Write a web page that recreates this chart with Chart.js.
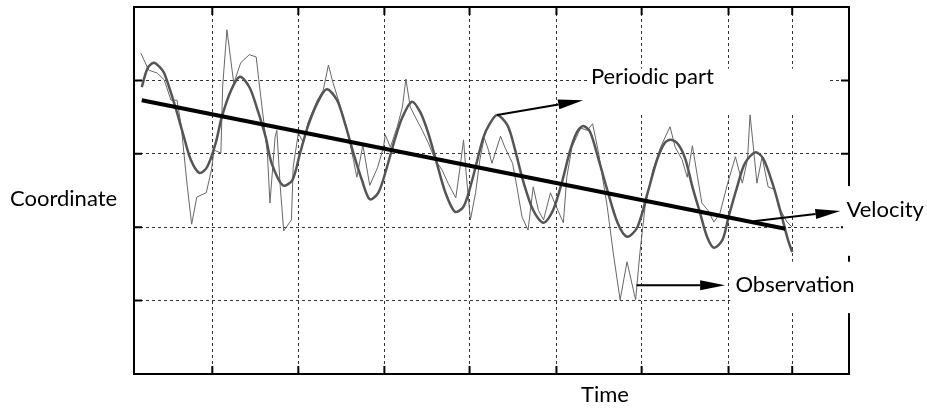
<!DOCTYPE html>
<html lang="en">
<head>
  <meta charset="UTF-8" />
  <title>Coordinate over Time</title>
  <script src="https://cdn.jsdelivr.net/npm/chart.js"></script>
  <style>
    * {
      margin: 0;
      padding: 0;
      box-sizing: border-box;
    }
    body {
      background: #fff;
      width: 927px;
      height: 412px;
      overflow: hidden;
    }
    .chart-box {
      position: relative;
      width: 927px;
      height: 412px;
    }
  </style>
</head>
<body>

  <div class="chart-box">
    <canvas id="signalChart"></canvas>
  </div>

  <script>
    // values: one y unit per horizontal grid division
    const obsTime = [0.08,0.17,0.27,0.35,0.43,0.50,0.55,0.58,0.62,0.67,
      0.73,0.84,0.90,0.93,1.01,1.03,1.08,1.14,1.16,1.24,
      1.34,1.42,1.45,1.51,1.55,1.58,1.64,1.66,1.70,1.74,
      1.83,1.85,1.91,1.97,2.02,2.13,2.20,2.26,2.31,2.40,
      2.48,2.55,2.59,2.66,2.74,2.83,2.90,2.92,2.98,3.06,
      3.12,3.16,3.21,3.27,3.35,3.42,3.50,3.58,3.65,3.74,
      3.79,3.83,3.86,3.91,3.97,4.02,4.07,4.12,4.16,4.26,
      4.31,4.40,4.45,4.51,4.58,4.64,4.70,4.76,4.84,4.90,
      4.99,5.03,5.09,5.19,5.27,5.33,5.40,5.50,5.57,5.65,
      5.73,5.83,5.88,5.94,6.03,6.12,6.23,6.29,6.37,6.43,
      6.49,6.55,6.60,6.67,6.74,6.81,6.90,6.99,7.07,7.13,
      7.16,7.19,7.24,7.30,7.37,7.45,7.49,7.59,7.65];
    const obsCoord = [4.37,4.14,4.10,4.01,3.73,3.73,3.37,3.01,2.55,2.04,
      2.41,2.47,2.78,3.05,3.01,3.91,4.69,4.14,3.96,4.24,
      4.35,4.32,4.01,3.42,3.01,2.33,3.23,3.32,2.55,1.95,
      2.10,2.82,3.28,3.15,3.42,3.73,3.87,4.21,3.98,3.64,
      3.32,2.92,2.68,3.12,2.57,2.81,3.09,3.26,3.09,3.37,
      3.64,4.02,3.64,3.50,3.32,3.15,2.92,2.78,2.60,2.40,
      2.82,3.19,2.74,2.10,2.47,2.92,3.22,3.05,2.87,3.24,
      3.09,2.87,2.55,2.14,1.96,2.55,2.23,2.10,2.47,2.30,
      2.06,2.68,3.09,3.35,3.32,3.41,3.01,2.28,1.65,1.01,
      1.53,1.01,1.65,2.28,2.78,3.09,3.37,3.09,2.92,2.68,
      3.11,2.68,2.33,2.23,2.07,2.19,2.60,2.96,2.60,2.92,
      3.53,3.19,2.60,2.96,2.55,2.51,2.28,2.07,2.00];

    const periodicTime = [0.09,0.16,0.23,0.30,0.35,0.43,0.50,0.58,0.66,0.76,
      0.85,0.95,1.02,1.13,1.23,1.34,1.43,1.53,1.60,1.73,
      1.84,1.93,2.02,2.13,2.24,2.36,2.45,2.55,2.65,2.74,
      2.84,2.94,3.03,3.12,3.23,3.33,3.42,3.52,3.62,3.73,
      3.83,3.93,4.06,4.14,4.22,4.34,4.43,4.52,4.64,4.76,
      4.87,4.98,5.07,5.15,5.22,5.30,5.40,5.50,5.62,5.73,
      5.85,5.97,6.08,6.17,6.24,6.33,6.41,6.49,6.58,6.66,
      6.74,6.84,6.91,7.01,7.10,7.22,7.31,7.42,7.51,7.60,7.65];
    const periodicCoord = [3.91,4.17,4.24,4.18,4.10,3.83,3.56,3.23,2.92,2.74,
      2.82,3.15,3.50,3.87,4.05,3.91,3.62,3.23,2.87,2.57,
      2.64,3.01,3.37,3.69,3.88,3.73,3.42,3.01,2.64,2.38,
      2.47,2.82,3.19,3.50,3.71,3.56,3.28,2.87,2.47,2.21,
      2.28,2.64,3.22,3.42,3.53,3.39,3.05,2.64,2.23,2.06,
      2.23,2.64,3.05,3.30,3.38,3.30,2.92,2.51,2.06,1.87,
      2.00,2.47,2.92,3.15,3.19,3.12,2.92,2.55,2.19,1.87,
      1.72,1.83,2.14,2.55,2.87,3.02,2.94,2.60,2.23,1.83,1.66];

    const velocityTime = [0.09, 7.57];
    const velocityCoord = [3.73, 1.98];

    const timeGrid = [0.91, 1.91, 2.91, 3.90, 4.91, 5.90, 6.91, 7.65];
    const timeMax = 8.31;
    const coordGrid = [1, 2, 3, 4];
    const coordMax = 5;

    // callouts: arrow from -> to, label anchored at "at", white patch behind label
    const callouts = [
      { text: "Periodic part", from: [4.22, 3.53], to: [5.22, 3.73], at: [5.31, 4.05], box: [5.30, 4.16, 8.06, 3.56] },
      { text: "Velocity", from: [7.20, 2.08], to: [8.21, 2.22], at: [8.28, 2.23], box: [8.24, 2.56, 9.30, 1.61] },
      { text: "Observation", from: [5.84, 1.21], to: [6.87, 1.21], at: [6.99, 1.21], box: [6.93, 1.53, 8.35, 0.83] }
    ];

    const labelFont = "22px Lato, 'Open Sans', sans-serif";

    function toPoints(xs, ys) {
      return xs.map((x, i) => ({ x: x, y: ys[i] }));
    }

    function drawArrow(ctx, x1, y1, x2, y2) {
      const ang = Math.atan2(y2 - y1, x2 - x1);
      const headLen = 25, headW = 5;
      const bx = x2 - headLen * Math.cos(ang);
      const by = y2 - headLen * Math.sin(ang);
      ctx.beginPath();
      ctx.moveTo(x1, y1);
      ctx.lineTo(bx, by);
      ctx.stroke();
      ctx.beginPath();
      ctx.moveTo(x2, y2);
      ctx.lineTo(bx - headW * Math.sin(ang), by + headW * Math.cos(ang));
      ctx.lineTo(bx + headW * Math.sin(ang), by - headW * Math.cos(ang));
      ctx.closePath();
      ctx.fill();
    }

    const framePlugin = {
      id: "frame",
      beforeDatasetsDraw(chart) {
        const { ctx, chartArea: a, scales } = chart;
        ctx.save();
        ctx.strokeStyle = "#000";
        ctx.lineWidth = 2;
        ctx.strokeRect(a.left, a.top, a.right - a.left, a.bottom - a.top);

        // inward tick marks on all four sides
        const tl = 8;
        ctx.beginPath();
        timeGrid.forEach(t => {
          const x = scales.x.getPixelForValue(t);
          ctx.moveTo(x, a.bottom); ctx.lineTo(x, a.bottom - tl);
          ctx.moveTo(x, a.top); ctx.lineTo(x, a.top + tl);
        });
        coordGrid.forEach(c => {
          const y = scales.y.getPixelForValue(c);
          ctx.moveTo(a.left, y); ctx.lineTo(a.left + tl, y);
          ctx.moveTo(a.right, y); ctx.lineTo(a.right - tl, y);
        });
        ctx.stroke();

        // label patches hide grid and frame behind the texts
        ctx.fillStyle = "#fff";
        callouts.forEach(c => {
          const x1 = scales.x.getPixelForValue(c.box[0]);
          const y1 = scales.y.getPixelForValue(c.box[1]);
          const x2 = scales.x.getPixelForValue(c.box[2]);
          const y2 = scales.y.getPixelForValue(c.box[3]);
          ctx.fillRect(x1, y1, x2 - x1, y2 - y1);
        });
        ctx.restore();
      },
      afterDatasetsDraw(chart) {
        const { ctx, scales } = chart;
        ctx.save();
        ctx.strokeStyle = "#000";
        ctx.fillStyle = "#000";
        ctx.lineWidth = 2;
        callouts.forEach(c => {
          drawArrow(ctx,
            scales.x.getPixelForValue(c.from[0]), scales.y.getPixelForValue(c.from[1]),
            scales.x.getPixelForValue(c.to[0]), scales.y.getPixelForValue(c.to[1]));
        });

        ctx.font = labelFont;
        ctx.textBaseline = "middle";
        ctx.textAlign = "left";
        callouts.forEach(c => {
          ctx.fillText(c.text, scales.x.getPixelForValue(c.at[0]), scales.y.getPixelForValue(c.at[1]));
        });
        ctx.fillText("Coordinate", 10, 199);
        ctx.textAlign = "center";
        ctx.fillText("Time", 605, 395);
        ctx.restore();
      }
    };

    const gridOpts = {
      color: "#333",
      lineWidth: 1,
      drawTicks: false
    };

    const ctx = document.getElementById("signalChart").getContext("2d");
    new Chart(ctx, {
      type: "line",
      data: {
        datasets: [
          {
            label: "Velocity",
            data: toPoints(velocityTime, velocityCoord),
            borderColor: "#000",
            borderWidth: 4,
            pointRadius: 0
          },
          {
            label: "Periodic part",
            data: toPoints(periodicTime, periodicCoord),
            borderColor: "#555",
            borderWidth: 2.5,
            pointRadius: 0,
            tension: 0.3
          },
          {
            label: "Observation",
            data: toPoints(obsTime, obsCoord),
            borderColor: "#666",
            borderWidth: 1,
            pointRadius: 0,
            tension: 0
          }
        ]
      },
      options: {
        responsive: true,
        maintainAspectRatio: false,
        animation: false,
        layout: {
          padding: { left: 134, top: 7, right: 78, bottom: 38 }
        },
        plugins: {
          legend: { display: false },
          tooltip: { enabled: false }
        },
        scales: {
          x: {
            type: "linear",
            min: 0,
            max: timeMax,
            afterBuildTicks: (scale) => {
              scale.ticks = timeGrid.map(v => ({ value: v }));
            },
            ticks: { display: false },
            grid: gridOpts,
            border: { display: false, dash: [3, 3] }
          },
          y: {
            min: 0,
            max: coordMax,
            afterBuildTicks: (scale) => {
              scale.ticks = coordGrid.map(v => ({ value: v }));
            },
            ticks: { display: false },
            grid: gridOpts,
            border: { display: false, dash: [3, 3] }
          }
        }
      },
      plugins: [framePlugin]
    });
  </script>
</body>
</html>
